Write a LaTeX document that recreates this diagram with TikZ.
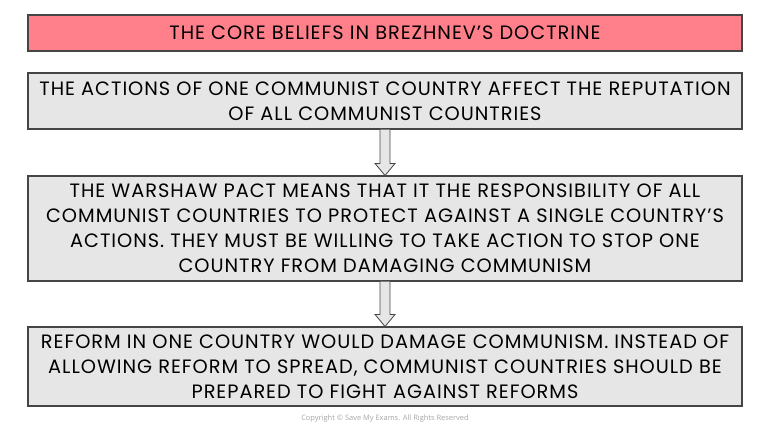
\documentclass[tikz,border=0pt]{standalone}
\usepackage{fontspec}
\setmainfont{Poppins}[LetterSpace=5]
\newfontfamily\smallfont{Open Sans}
\usepackage{tikz}
\usetikzlibrary{calc}
\definecolor{titlepink}{HTML}{FF808A}
\definecolor{boxgrey}{HTML}{E6E6E6}
\definecolor{edgegrey}{HTML}{454545}

\begin{document}
\begin{tikzpicture}[x=0.75pt,y=-0.75pt,
      every node/.style={font=\fontsize{14.5}{18.75}\selectfont},
      base box/.style={rectangle,draw=edgegrey,line width=0.8pt,
        minimum width=535.5pt,align=center,inner sep=0pt},
      title node/.style={base box,fill=titlepink,minimum height=27pt},
      belief node/.style={base box,fill=boxgrey},
      flow arrow/.style={draw=edgegrey,fill=boxgrey,line width=0.6pt,line join=miter}]

      \useasboundingbox (0,0) rectangle (770,430);

      \node[title node] (title) at (385,33) {THE CORE BELIEFS IN BREZHNEV’S DOCTRINE};
      \node[belief node,minimum height=42pt] (b1) at (385,101)
        {THE ACTIONS OF ONE COMMUNIST COUNTRY AFFECT THE REPUTATION\\
         OF ALL COMMUNIST COUNTRIES};
      \node[belief node,minimum height=78.75pt] (b2) at (385,228.5)
        {THE WARSHAW PACT MEANS THAT IT THE RESPONSIBILITY OF ALL\\
         COMMUNIST COUNTRIES TO PROTECT AGAINST A SINGLE COUNTRY’S\\
         ACTIONS. THEY MUST BE WILLING TO TAKE ACTION TO STOP ONE\\
         COUNTRY FROM DAMAGING COMMUNISM};
      \node[belief node,minimum height=59.25pt] (b3) at (385,366.5)
        {REFORM IN ONE COUNTRY WOULD DAMAGE COMMUNISM. INSTEAD OF\\
         ALLOWING REFORM TO SPREAD, COMMUNIST COUNTRIES SHOULD BE\\
         PREPARED TO FIGHT AGAINST REFORMS};
      \node[text=gray!70,font=\smallfont\fontsize{5.6}{7}\selectfont] (copy) at (385,419)
        {Copyright © Save My Exams. All Rights Reserved};

      % block arrows between the boxes
      \draw[flow arrow] ($(b1.south)+(-5,0)$) -- ($(b2.north)+(-5,-12)$)
        -- ($(b2.north)+(-10,-12)$) -- (b2.north) -- ($(b2.north)+(10,-12)$)
        -- ($(b2.north)+(5,-12)$) -- ($(b1.south)+(5,0)$);
      \draw[flow arrow] ($(b2.south)+(-5,0)$) -- ($(b3.north)+(-5,-12)$)
        -- ($(b3.north)+(-10,-12)$) -- (b3.north) -- ($(b3.north)+(10,-12)$)
        -- ($(b3.north)+(5,-12)$) -- ($(b2.south)+(5,0)$);
    \end{tikzpicture}
\end{document}
